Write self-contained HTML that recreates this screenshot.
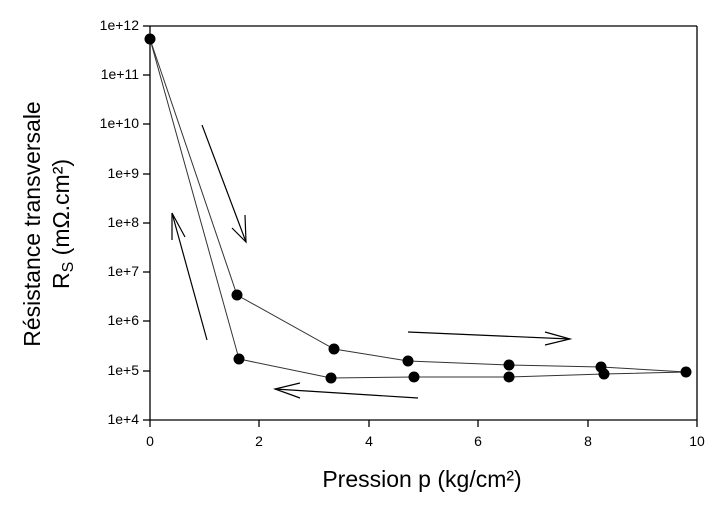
<!DOCTYPE html>
<html><head><meta charset="utf-8"><style>
body{margin:0;background:#fff;}
svg{display:block;font-family:"Liberation Sans",sans-serif;}
</style></head><body>
<svg width="714" height="512" viewBox="0 0 714 512">
<rect width="714" height="512" fill="#fff"/>
<g stroke="#000" stroke-width="1.3" fill="none">
<line x1="150" y1="26" x2="697" y2="26"/>
<line x1="697" y1="26" x2="697" y2="420"/>
<line x1="150" y1="26" x2="150" y2="420"/>
<line x1="150" y1="420" x2="697" y2="420"/>
<line x1="143" y1="26" x2="150" y2="26"/>
<line x1="143" y1="75" x2="150" y2="75"/>
<line x1="143" y1="124" x2="150" y2="124"/>
<line x1="143" y1="174" x2="150" y2="174"/>
<line x1="143" y1="223" x2="150" y2="223"/>
<line x1="143" y1="272" x2="150" y2="272"/>
<line x1="143" y1="321" x2="150" y2="321"/>
<line x1="143" y1="371" x2="150" y2="371"/>
<line x1="143" y1="420" x2="150" y2="420"/>
<line x1="150" y1="420" x2="150" y2="427"/>
<line x1="259" y1="420" x2="259" y2="427"/>
<line x1="369" y1="420" x2="369" y2="427"/>
<line x1="478" y1="420" x2="478" y2="427"/>
<line x1="588" y1="420" x2="588" y2="427"/>
<line x1="697" y1="420" x2="697" y2="427"/>
</g>
<g font-size="14" text-anchor="end" fill="#000">
<text x="139" y="30">1e+12</text><text x="139" y="79">1e+11</text><text x="139" y="128">1e+10</text>
<text x="139" y="178">1e+9</text><text x="139" y="227">1e+8</text><text x="139" y="276">1e+7</text>
<text x="139" y="325">1e+6</text><text x="139" y="375">1e+5</text><text x="139" y="424">1e+4</text>
</g>
<g font-size="14" text-anchor="middle" fill="#000">
<text x="150" y="446">0</text><text x="259" y="446">2</text><text x="369" y="446">4</text>
<text x="478" y="446">6</text><text x="588" y="446">8</text><text x="697" y="446">10</text>
</g>
<text x="422" y="487" font-size="23" text-anchor="middle">Pression p (kg/cm²)</text>
<text transform="translate(40,224) rotate(-90)" font-size="23" text-anchor="middle">Résistance transversale</text>
<text transform="translate(69,224) rotate(-90)" font-size="23" text-anchor="middle">R<tspan font-size="16" dy="4">S</tspan><tspan dy="-4"> (mΩ.cm²)</tspan></text>
<g stroke="#333" stroke-width="1" fill="none">
<polyline points="150,39 237,295 334,349 408,361 509,365 601,367 686,372"/>
<polyline points="150,39 239,359 331,378 414,377 509,377 604,374 686,372"/>
</g>
<g fill="#000">
<circle cx="150" cy="39" r="5.5"/>
<circle cx="237" cy="295" r="5.5"/><circle cx="334" cy="349" r="5.5"/><circle cx="408" cy="361" r="5.5"/>
<circle cx="509" cy="365" r="5.5"/><circle cx="601" cy="367" r="5.5"/>
<circle cx="686" cy="372" r="5.5"/>
<circle cx="239" cy="359" r="5.5"/><circle cx="331" cy="378" r="5.5"/><circle cx="414" cy="377" r="5.5"/>
<circle cx="509" cy="377" r="5.5"/><circle cx="604" cy="374" r="5.5"/>
</g>
<g stroke="#000" stroke-width="1.2" fill="none">
<line x1="202" y1="125" x2="246" y2="242"/><polyline points="232,228 246,242 245,215"/>
<line x1="207" y1="340" x2="172" y2="213"/><polyline points="172,240 172,213 185,237"/>
<line x1="408" y1="332" x2="570" y2="339"/><polyline points="545,332 570,339 545,345"/>
<line x1="418" y1="398" x2="275" y2="389"/><polyline points="300,383 275,389 300,398"/>
</g>
</svg>
</body></html>
